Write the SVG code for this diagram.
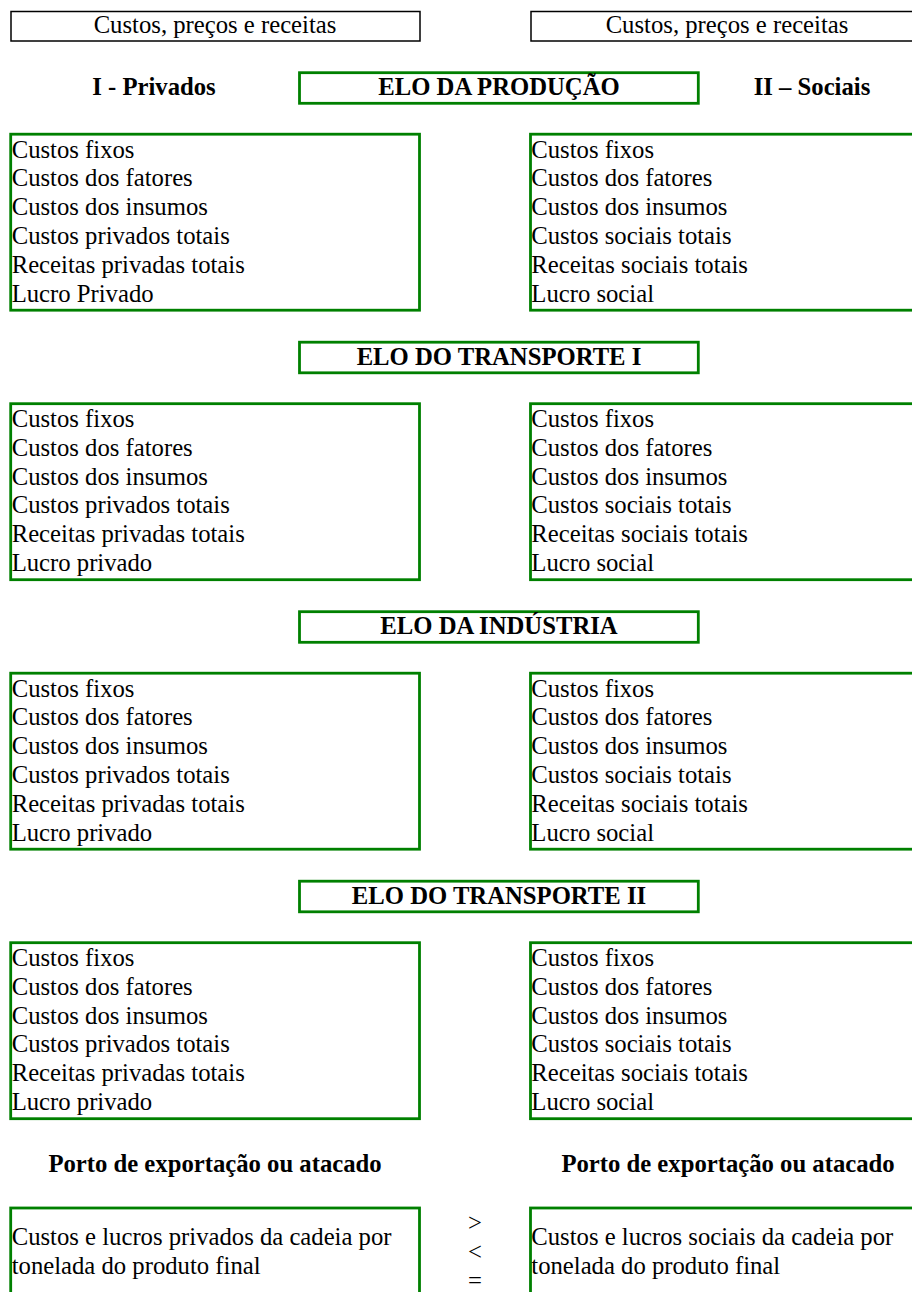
<svg xmlns="http://www.w3.org/2000/svg" width="912" height="1292" viewBox="0 0 912 1292">
<style>
  .hdr{fill:#fff;stroke:#000;stroke-width:1.5}
  .gbox{fill:#fff;stroke:#008000;stroke-width:2.8}
  .t{font-family:"Liberation Serif","Times New Roman",serif;font-size:24.7px;fill:#000}
  .b{font-family:"Liberation Serif","Times New Roman",serif;font-size:24.7px;font-weight:bold;fill:#000}
  .c{text-anchor:middle}
</style>
<rect width="912" height="1292" fill="#fff"/>

<g id="hdr-left">
  <rect class="hdr" x="11" y="11.5" width="409" height="29.5"/>
  <text class="t c" x="215" y="33">Custos, preços e receitas</text>
</g>
<g id="hdr-right">
  <rect class="hdr" x="531" y="11.5" width="400" height="29.5"/>
  <text class="t c" x="727" y="33">Custos, preços e receitas</text>
</g>
<g id="col-privados"><text class="b c" x="154" y="95">I - Privados</text></g>
<g id="col-sociais"><text class="b c" x="812" y="95">II – Sociais</text></g>

<!-- Section 1 -->
<g id="elo-producao">
  <rect class="gbox" x="299.5" y="72.7" width="398.8" height="30.6"/>
  <text class="b c" x="499" y="95">ELO DA PRODUÇÃO</text>
</g>
<g id="producao-privado">
  <rect class="gbox" x="10.7" y="134.2" width="408.8" height="176"/>
  <text class="t" x="11.7" y="157.5">Custos fixos</text>
  <text class="t" x="11.7" y="186.3">Custos dos fatores</text>
  <text class="t" x="11.7" y="215.1">Custos dos insumos</text>
  <text class="t" x="11.7" y="243.9">Custos privados totais</text>
  <text class="t" x="11.7" y="272.7">Receitas privadas totais</text>
  <text class="t" x="11.7" y="301.5">Lucro Privado</text>
</g>
<g id="producao-social">
  <rect class="gbox" x="530.5" y="134.2" width="400" height="176"/>
  <text class="t" x="531.3" y="157.5">Custos fixos</text>
  <text class="t" x="531.3" y="186.3">Custos dos fatores</text>
  <text class="t" x="531.3" y="215.1">Custos dos insumos</text>
  <text class="t" x="531.3" y="243.9">Custos sociais totais</text>
  <text class="t" x="531.3" y="272.7">Receitas sociais totais</text>
  <text class="t" x="531.3" y="301.5">Lucro social</text>
</g>

<!-- Section 2 -->
<g id="elo-transporte-1">
  <rect class="gbox" x="299.5" y="342.2" width="398.8" height="30.6"/>
  <text class="b c" x="499" y="364.5">ELO DO TRANSPORTE I</text>
</g>
<g id="transporte1-privado">
  <rect class="gbox" x="10.7" y="403.7" width="408.8" height="176"/>
  <text class="t" x="11.7" y="427">Custos fixos</text>
  <text class="t" x="11.7" y="455.8">Custos dos fatores</text>
  <text class="t" x="11.7" y="484.6">Custos dos insumos</text>
  <text class="t" x="11.7" y="513.4">Custos privados totais</text>
  <text class="t" x="11.7" y="542.2">Receitas privadas totais</text>
  <text class="t" x="11.7" y="571">Lucro privado</text>
</g>
<g id="transporte1-social">
  <rect class="gbox" x="530.5" y="403.7" width="400" height="176"/>
  <text class="t" x="531.3" y="427">Custos fixos</text>
  <text class="t" x="531.3" y="455.8">Custos dos fatores</text>
  <text class="t" x="531.3" y="484.6">Custos dos insumos</text>
  <text class="t" x="531.3" y="513.4">Custos sociais totais</text>
  <text class="t" x="531.3" y="542.2">Receitas sociais totais</text>
  <text class="t" x="531.3" y="571">Lucro social</text>
</g>

<!-- Section 3 -->
<g id="elo-industria">
  <rect class="gbox" x="299.5" y="611.7" width="398.8" height="30.6"/>
  <text class="b c" x="499" y="634">ELO DA INDÚSTRIA</text>
</g>
<g id="industria-privado">
  <rect class="gbox" x="10.7" y="673.2" width="408.8" height="176"/>
  <text class="t" x="11.7" y="696.5">Custos fixos</text>
  <text class="t" x="11.7" y="725.3">Custos dos fatores</text>
  <text class="t" x="11.7" y="754.1">Custos dos insumos</text>
  <text class="t" x="11.7" y="782.9">Custos privados totais</text>
  <text class="t" x="11.7" y="811.7">Receitas privadas totais</text>
  <text class="t" x="11.7" y="840.5">Lucro privado</text>
</g>
<g id="industria-social">
  <rect class="gbox" x="530.5" y="673.2" width="400" height="176"/>
  <text class="t" x="531.3" y="696.5">Custos fixos</text>
  <text class="t" x="531.3" y="725.3">Custos dos fatores</text>
  <text class="t" x="531.3" y="754.1">Custos dos insumos</text>
  <text class="t" x="531.3" y="782.9">Custos sociais totais</text>
  <text class="t" x="531.3" y="811.7">Receitas sociais totais</text>
  <text class="t" x="531.3" y="840.5">Lucro social</text>
</g>

<!-- Section 4 -->
<g id="elo-transporte-2">
  <rect class="gbox" x="299.5" y="881.2" width="398.8" height="30.6"/>
  <text class="b c" x="499" y="903.5">ELO DO TRANSPORTE II</text>
</g>
<g id="transporte2-privado">
  <rect class="gbox" x="10.7" y="942.7" width="408.8" height="176"/>
  <text class="t" x="11.7" y="966">Custos fixos</text>
  <text class="t" x="11.7" y="994.8">Custos dos fatores</text>
  <text class="t" x="11.7" y="1023.6">Custos dos insumos</text>
  <text class="t" x="11.7" y="1052.4">Custos privados totais</text>
  <text class="t" x="11.7" y="1081.2">Receitas privadas totais</text>
  <text class="t" x="11.7" y="1110">Lucro privado</text>
</g>
<g id="transporte2-social">
  <rect class="gbox" x="530.5" y="942.7" width="400" height="176"/>
  <text class="t" x="531.3" y="966">Custos fixos</text>
  <text class="t" x="531.3" y="994.8">Custos dos fatores</text>
  <text class="t" x="531.3" y="1023.6">Custos dos insumos</text>
  <text class="t" x="531.3" y="1052.4">Custos sociais totais</text>
  <text class="t" x="531.3" y="1081.2">Receitas sociais totais</text>
  <text class="t" x="531.3" y="1110">Lucro social</text>
</g>

<!-- Bottom -->
<g id="porto-left"><text class="b c" x="215" y="1172">Porto de exportação ou atacado</text></g>
<g id="porto-right"><text class="b c" x="728" y="1172">Porto de exportação ou atacado</text></g>
<g id="cadeia-privado">
  <rect class="gbox" x="10.7" y="1208" width="408.8" height="120"/>
  <text class="t" x="11.7" y="1245">Custos e lucros privados da cadeia por</text>
  <text class="t" x="11.7" y="1273.5">tonelada do produto final</text>
</g>
<g id="comparacao">
  <text class="t c" x="475" y="1230.5">&gt;</text>
  <text class="t c" x="475" y="1260">&lt;</text>
  <text class="t c" x="475" y="1288.5">=</text>
</g>
<g id="cadeia-social">
  <rect class="gbox" x="530.5" y="1208" width="400" height="120"/>
  <text class="t" x="531.3" y="1245">Custos e lucros sociais da cadeia por</text>
  <text class="t" x="531.3" y="1273.5">tonelada do produto final</text>
</g>
</svg>
